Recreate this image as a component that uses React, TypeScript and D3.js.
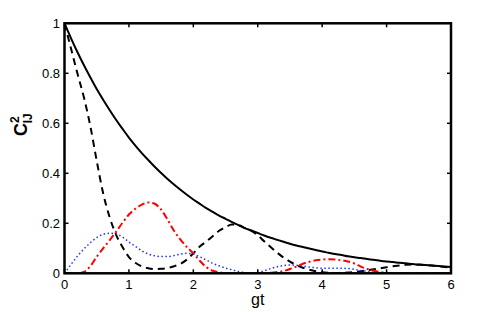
import * as d3 from "d3"
import { useMemo } from "react"

// gt sampled every 0.1 from 0 to 6
const gt: number[] = d3.range(0, 61).map((i) => i / 10)

// solid black: envelope
const envelope = [
  1.0, 0.941, 0.885, 0.833, 0.784, 0.737, 0.694, 0.653, 0.614, 0.578,
  0.543, 0.511, 0.481, 0.453, 0.426, 0.401, 0.377, 0.355, 0.334, 0.314,
  0.295, 0.278, 0.261, 0.246, 0.231, 0.218, 0.205, 0.193, 0.181, 0.171,
  0.161, 0.151, 0.142, 0.134, 0.126, 0.118, 0.111, 0.105, 0.099, 0.093,
  0.087, 0.082, 0.077, 0.073, 0.068, 0.064, 0.061, 0.057, 0.054, 0.05,
  0.047, 0.045, 0.042, 0.04, 0.037, 0.035, 0.033, 0.031, 0.029, 0.027,
  0.025,
]

// black dashed
const dashed = [
  1.0, 0.9, 0.8, 0.705, 0.59, 0.45, 0.32, 0.225, 0.155, 0.105,
  0.065, 0.042, 0.028, 0.02, 0.017, 0.018, 0.021, 0.028, 0.038, 0.055,
  0.08, 0.107, 0.127, 0.148, 0.17, 0.185, 0.195, 0.193, 0.181, 0.17,
  0.152, 0.128, 0.105, 0.083, 0.063, 0.047, 0.033, 0.022, 0.014, 0.008,
  0.004, 0.002, 0.001, 0.002, 0.003, 0.005, 0.008, 0.012, 0.016, 0.02,
  0.024, 0.028, 0.031, 0.034, 0.035, 0.034, 0.033, 0.031, 0.028, 0.025,
  0.022,
]

// red dash-dot
const dashDot = [
  0, 0, 0, 0.005, 0.028, 0.066, 0.1, 0.132, 0.166, 0.202,
  0.235, 0.258, 0.275, 0.283, 0.278, 0.255, 0.215, 0.17, 0.135, 0.105,
  0.08, 0.05, 0.025, 0.01, 0.004, 0, 0, 0, 0, 0,
  0, 0, 0.002, 0.005, 0.009, 0.017, 0.027, 0.038, 0.046, 0.052,
  0.055, 0.056, 0.055, 0.052, 0.047, 0.039, 0.027, 0.017, 0.01, 0.005,
  0.002, 0, 0, 0, 0, 0, 0, 0, 0, 0,
  0,
]

// blue dotted
const dotted = [
  0, 0.035, 0.068, 0.097, 0.122, 0.143, 0.156, 0.16, 0.157, 0.145,
  0.125, 0.108, 0.09, 0.077, 0.07, 0.067, 0.067, 0.071, 0.077, 0.08,
  0.077, 0.066, 0.053, 0.04, 0.03, 0.021, 0.014, 0.007, 0.003, 0.001,
  0.003, 0.01, 0.019, 0.026, 0.031, 0.033, 0.032, 0.029, 0.025, 0.022,
  0.02, 0.02, 0.02, 0.02, 0.019, 0.016, 0.011, 0.007, 0.004, 0.002,
  0, 0, 0, 0, 0, 0, 0, 0, 0, 0,
  0,
]

const xTicks = [0, 1, 2, 3, 4, 5, 6]
const yTicks = [0, 0.2, 0.4, 0.6, 0.8, 1]

const W = 498
const H = 312
const font = "'Liberation Sans', Arial, Helvetica, sans-serif"

export default function App() {
  const x = d3.scaleLinear().domain([0, 6]).range([64.5, 451])
  const y = d3.scaleLinear().domain([0, 1]).range([273.3, 23.3])

  const line = useMemo(
    () =>
      d3
        .line<number>()
        .x((_, i) => x(gt[i]))
        .y((d) => y(d))
        .curve(d3.curveMonotoneX),
    []
  )

  const series = [
    { v: envelope, stroke: "#000", width: 2, dash: undefined },
    { v: dashed, stroke: "#000", width: 2, dash: "7,5" },
    { v: dashDot, stroke: "#ff0000", width: 2, dash: "7,3,2,3" },
    { v: dotted, stroke: "#2233ff", width: 1.5, dash: "1.5,2.5" },
  ]

  const [x0, x1] = x.range()
  const [y0, y1] = y.range()

  return (
    <svg
      width={W}
      height={H}
      style={{ position: "absolute", left: 0, top: 0, background: "#fff" }}
    >
      <defs>
        <clipPath id="plot">
          <rect x={x0} y={y1} width={x1 - x0} height={y0 - y1} />
        </clipPath>
      </defs>
      <g clipPath="url(#plot)">
        {series.map((s, i) => (
          <path
            key={i}
            d={line(s.v) as string}
            fill="none"
            stroke={s.stroke}
            strokeWidth={s.width}
            strokeDasharray={s.dash}
          />
        ))}
      </g>

      {/* ticks, pointing inward on all four sides */}
      {xTicks.map((t) => (
        <g key={"x" + t}>
          <line x1={x(t)} x2={x(t)} y1={y0} y2={y0 - 4} stroke="#000" strokeWidth={1.5} />
          <line x1={x(t)} x2={x(t)} y1={y1} y2={y1 + 4} stroke="#000" strokeWidth={1.5} />
          <text x={x(t)} y={289} textAnchor="middle" fontSize={13} fontFamily={font}>
            {t}
          </text>
        </g>
      ))}
      {yTicks.map((t) => (
        <g key={"y" + t}>
          <line x1={x0} x2={x0 + 4} y1={y(t)} y2={y(t)} stroke="#000" strokeWidth={1.5} />
          <line x1={x1} x2={x1 - 4} y1={y(t)} y2={y(t)} stroke="#000" strokeWidth={1.5} />
          <text x={60} y={y(t) + 4.5} textAnchor="end" fontSize={13} fontFamily={font}>
            {t}
          </text>
        </g>
      ))}

      <rect x={x0} y={y1} width={x1 - x0} height={y0 - y1} fill="none" stroke="#000" strokeWidth={2.5} />

      <text x={(x0 + x1) / 2} y={305} textAnchor="middle" fontSize={16} fontFamily={font}>
        gt
      </text>

      <text
        transform="translate(27,136) rotate(-90)"
        fontSize={18}
        fontWeight="bold"
        fontFamily={font}
      >
        C
        <tspan fontSize={12} dy={-8}>2</tspan>
        <tspan fontSize={12} dx={-7} dy={13}>IJ</tspan>
      </text>
    </svg>
  )
}
